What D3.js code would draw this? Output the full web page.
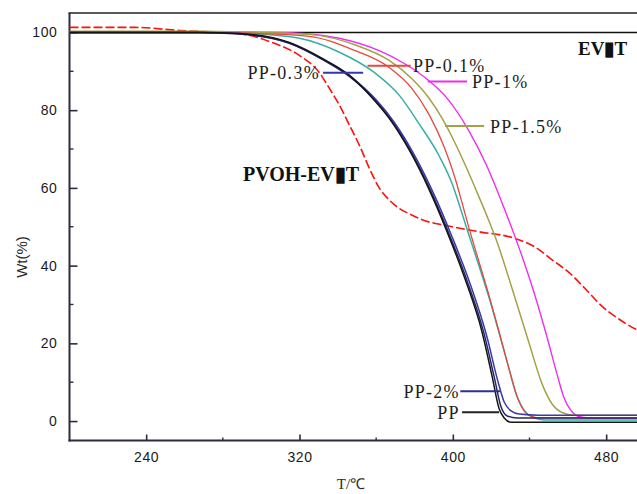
<!DOCTYPE html>
<html>
<head>
<meta charset="utf-8">
<script src="https://cdn.jsdelivr.net/npm/d3@7"></script>
<style>
  body { margin: 0; background: #fff; }
  svg { display: block; }
</style>
</head>
<body>
<svg id="chart" width="637" height="494"></svg>
<script>
// Axis ticks
const xTicks = [240, 320, 400, 480];
const xMinor = [280, 360, 440];
const yTicks = [0, 20, 40, 60, 80, 100];
const yMinor = [10, 30, 50, 70, 90];

// TGA curves: [temperature °C, residual weight %]
const PP = [[200,100],[267.8,100],[288.6,99.7],[314.7,97.4],[331.9,93.3],[346,89],[358,83.1],[366.8,77.9],[377.3,69.7],[387.7,59.5],[396.6,49.2],[405.9,37.2],[415.3,22.8],[420.5,11.5],[424.2,3.1],[426.8,0.8],[430.4,-0.3],[500,-0.3]];
const PP03 = [[200,100],[267.8,100],[288.6,99.6],[314.7,97.3],[331.9,93.1],[346,88.7],[359,82.8],[367.9,77.4],[378.3,69.2],[388.7,59],[397.6,48.7],[407,36.7],[416.4,22.3],[421.6,11.3],[425.2,3.6],[428.4,1.3],[433.6,0.8],[500,0.8]];
const PP2 = [[200,100],[267.8,100],[288.6,99.7],[314.7,97.2],[333,92.8],[347,88.5],[360.1,82.6],[369.4,76.9],[379.9,68.5],[390.3,58.2],[399.2,47.9],[408.6,35.9],[417.9,21.5],[423.2,10.8],[426.8,4.9],[430.4,2.6],[434.6,1.8],[445,1.5],[500,1.5]];
const PP05 = [[200,100],[267.8,100],[293.8,99.7],[319.9,98.5],[340.8,94.9],[359,89.7],[372.1,83.8],[382.5,76.4],[392.9,68.2],[399.7,61],[403.4,55.6],[407,50],[413.8,39.7],[419,31.6],[424.2,22.6],[429.4,13.3],[433.6,6.2],[437.2,2.8],[441.4,1],[447.7,0.3],[500,0.3]];
const PP01 = [[200,100],[267.8,100],[299.1,99.7],[325.1,99],[348.6,95.4],[366.8,91],[378.3,85.8],[387.7,78.8],[395.5,70.5],[401.3,62.3],[404.9,56],[408,50.4],[414.3,39.9],[419,32.1],[424.2,22.8],[429.4,13.3],[433.1,6.9],[435.7,3.8],[438.8,1.8],[445,0.8],[500,0.8]];
const PP15 = [[200,100.3],[267.8,100.3],[299.1,100],[325.1,99.5],[349.6,96.7],[366.8,92.8],[378.8,88],[387.7,83],[394.5,77.8],[400.7,72],[407,65.3],[413.8,57.5],[419,51.3],[422.6,46.7],[431,34],[439.8,20],[446.6,9.5],[451.8,4.4],[457,2.2],[463,1.5],[500,1.5]];
const PP1 = [[200,100],[267.8,100],[304.3,100],[323.6,99.7],[340.8,98.5],[361.6,95.3],[374.7,92],[387.7,87.5],[396.6,83.3],[408.6,74.5],[417.4,66],[425.8,56],[434.6,44.5],[442.4,33],[449.2,21.5],[454.4,12],[458,6],[461.5,2.8],[465,1.3],[471,0.8],[500,0.8]];
const EVMT = [[200,100],[500,100]];
const PVOH = [[200,101.3],[233.9,101.3],[257.4,100.5],[278.2,100],[291.2,99.5],[305.8,97.4],[319.9,94.1],[330.3,89.7],[335.6,85.6],[340.8,81.3],[346,76.2],[351.2,71],[356.4,65.1],[361.6,60],[366.8,56.9],[372.1,54.7],[378.3,53.1],[384,51.8],[396.6,50.3],[413.8,48.7],[431,47.2],[443.5,44.6],[451.8,41.5],[460.7,38.2],[469.6,33.8],[477.9,29.5],[486.8,26.2],[495.6,23.6],[499.8,22.8]];

const series = [
  { data: EVMT, color: "#111111", width: 1.6 },
  { data: PVOH, color: "#ff1010", width: 1.6, dash: "9,3" },
  { data: PP1,  color: "#f02cf0", width: 1.4 },
  { data: PP15, color: "#a3a246", width: 1.5 },
  { data: PP05, color: "#36b0a2", width: 1.5 },
  { data: PP01, color: "#e5483f", width: 1.3 },
  { data: PP2,  color: "#3a3aa6", width: 1.5 },
  { data: PP03, color: "#25256e", width: 1.5 },
  { data: PP,   color: "#151515", width: 1.5 }
];

const svg = d3.select("#chart");
const x = d3.scaleLinear().domain([200, 500]).range([69.5, 644.5]);
const y = d3.scaleLinear().domain([-5, 105]).range([440.5, 13]);

svg.append("defs").append("clipPath").attr("id", "plot")
  .append("rect").attr("x", x(200)).attr("y", y(105))
  .attr("width", x(500) - x(200)).attr("height", y(-5) - y(105));

// Axes with inward ticks
const axisColor = "#2d2d3d";
const gx = svg.append("g").attr("transform", `translate(0,${y(-5)})`)
  .call(d3.axisBottom(x).tickValues(xTicks).tickSize(-6).tickPadding(12));
const gy = svg.append("g").attr("transform", `translate(${x(200)},0)`)
  .call(d3.axisLeft(y).tickValues(yTicks).tickSize(-8).tickPadding(12));
[gx, gy].forEach(g => {
  g.select(".domain").remove();
  g.selectAll(".tick line").attr("stroke", axisColor).attr("stroke-width", 1.6);
  g.selectAll(".tick text").attr("fill", "#1a1a1a")
    .style("font-family", "Arial, 'Liberation Sans', sans-serif")
    .style("font-size", "14px").style("letter-spacing", "0.6px");
});
svg.append("g").selectAll("line").data(xMinor).join("line")
  .attr("x1", d => x(d)).attr("x2", d => x(d))
  .attr("y1", y(-5)).attr("y2", y(-5) - 3)
  .attr("stroke", axisColor).attr("stroke-width", 1.4);
svg.append("g").selectAll("line").data(yMinor).join("line")
  .attr("x1", x(200)).attr("x2", x(200) + 4)
  .attr("y1", d => y(d)).attr("y2", d => y(d))
  .attr("stroke", axisColor).attr("stroke-width", 1.4);

// Frame: left and bottom axis lines, top border
svg.append("line").attr("x1", x(200)).attr("x2", x(200)).attr("y1", y(105)).attr("y2", y(-5) + 1)
  .attr("stroke", axisColor).attr("stroke-width", 2);
svg.append("line").attr("x1", x(200) - 1).attr("x2", 637).attr("y1", y(-5)).attr("y2", y(-5))
  .attr("stroke", axisColor).attr("stroke-width", 2);
svg.append("line").attr("x1", x(200) - 1).attr("x2", 637).attr("y1", y(105)).attr("y2", y(105))
  .attr("stroke", "#222").attr("stroke-width", 1.6);

// Curves
const line = d3.line().x(d => x(d[0])).y(d => y(d[1])).curve(d3.curveMonotoneX);
svg.append("g").attr("clip-path", "url(#plot)")
  .selectAll("path").data(series).join("path")
  .attr("d", d => line(d.data))
  .attr("fill", "none")
  .attr("stroke", d => d.color)
  .attr("stroke-width", d => d.width)
  .attr("stroke-dasharray", d => d.dash || null);

// Curve labels with leader lines
const labels = [
  { text: "PP-0.3%", color: "#3535b0", tx: 330.7, lx: [332.3, 353.2], w: 89.6 },
  { text: "PP-0.1%", color: "#e5483f", tx: 379.2, lx: [355.5, 378], w: 91.4, start: true },
  { text: "PP-1%",   color: "#f02cf0", tx: 410.0, lx: [386.9, 407.4], w: 87.4, start: true },
  { text: "PP-1.5%", color: "#a3a246", tx: 419.4, lx: [395.9, 416.3], w: 75.9, start: true },
  { text: "PP-2%",   color: "#30308e", tx: 403.7, lx: [403.9, 424.6], w: 7.7 },
  { text: "PP",      color: "#222222", tx: 403.7, lx: [404.8, 424.1], w: 2.3 }
];
const lg = svg.append("g");
labels.forEach(l => {
  lg.append("line").attr("x1", x(l.lx[0])).attr("x2", x(l.lx[1]))
    .attr("y1", y(l.w)).attr("y2", y(l.w))
    .attr("stroke", l.color).attr("stroke-width", 2);
  lg.append("text").attr("x", x(l.tx)).attr("y", y(l.w)).attr("dy", "0.36em")
    .attr("text-anchor", l.start ? "start" : "end")
    .attr("fill", "#1e1e1e")
    .style("font-family", "'Liberation Serif', 'Times New Roman', serif")
    .style("font-size", "18px").style("letter-spacing", "1.3px")
    .text(l.text);
});

// Material names
const serif = "'Liberation Serif', 'Times New Roman', serif";
svg.append("text").attr("x", x(465.3)).attr("y", y(96)).attr("dy", "0.36em")
  .style("font-family", serif).style("font-size", "19px").style("font-weight", "bold")
  .attr("fill", "#111").text("EV▮T");
svg.append("text").attr("x", x(290.5)).attr("y", y(63.5)).attr("dy", "0.36em")
  .style("font-family", serif).style("font-size", "20px").style("font-weight", "bold")
  .attr("fill", "#111").text("PVOH-EV▮T");

// Axis titles
svg.append("text").attr("transform", `translate(22,257) rotate(-90)`)
  .attr("text-anchor", "middle").attr("dy", "0.36em")
  .style("font-family", "Arial, 'Liberation Sans', sans-serif").style("font-size", "15px")
  .attr("fill", "#2a2a2a").text("Wt(%)");
svg.append("text").attr("x", 351).attr("y", 489).attr("text-anchor", "middle")
  .style("font-family", serif).style("font-size", "15px")
  .attr("fill", "#2a2a2a").text("T/℃");
</script>
</body>
</html>
